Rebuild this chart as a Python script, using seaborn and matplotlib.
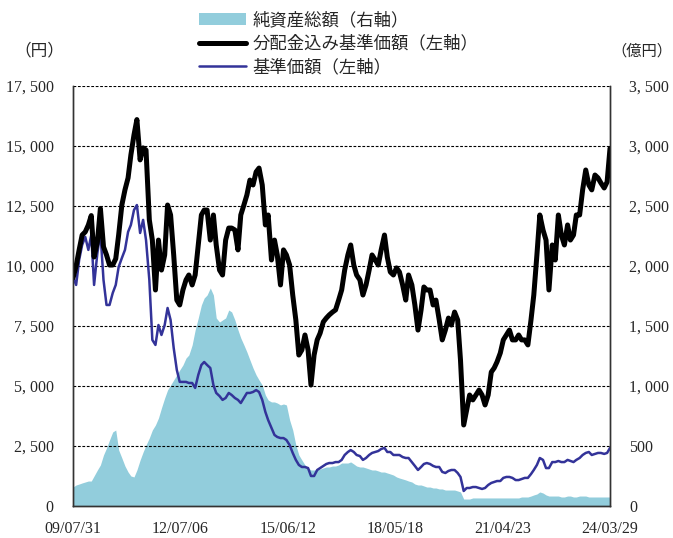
import numpy as np
import pandas as pd
import seaborn as sns
import matplotlib.pyplot as plt
from matplotlib.patches import Patch
from matplotlib.lines import Line2D

# monthly readings (business month end), 2009/07/31 .. 2024/03/29
dates = pd.date_range('2009-07-31', '2024-03-29', freq='BME')

nav_with_div = [9500, 10000, 10670, 11290, 11420, 11710, 12100, 10375, 11000, 12400,
                10800, 10460, 10040, 10040, 10300, 11290, 12540, 13170, 13670, 14625,
                15460, 16100, 14420, 14920, 14830, 11920, 11080, 9000, 11080, 9830,
                10460, 12540, 12125, 10460, 8580, 8375, 9000, 9420, 9625, 9210,
                9625, 10875, 12125, 12330, 12330, 11080, 12125, 10875, 9830, 9625,
                11080, 11580, 11580, 11500, 10670, 12125, 12540, 12960, 13580, 13375,
                13920, 14080, 13375, 11710, 12125, 10250, 11080, 10460, 9210, 10670,
                10460, 10040, 8790, 7750, 6290, 6500, 7125, 6500, 5040, 6290,
                6920, 7200, 7670, 7830, 7960, 8080, 8170, 8580, 9000, 9830,
                10460, 10875, 10040, 9625, 9420, 8790, 9210, 9830, 10460, 10250,
                10040, 10670, 11290, 10375, 9750, 9625, 9920, 9750, 9210, 8580,
                9625, 9210, 8375, 7330, 8170, 9125, 9000, 9000, 8375, 8580,
                7750, 6920, 7330, 7830, 7540, 8080, 7750, 6080, 3375, 4000,
                4625, 4420, 4625, 4830, 4625, 4210, 4625, 5580, 5750, 6000,
                6375, 6920, 7125, 7330, 6920, 6920, 7125, 6920, 6920, 6710,
                7750, 8790, 10460, 12125, 11500, 11080, 9000, 10875, 10250, 12125,
                11290, 10875, 11710, 11080, 11290, 12125, 12125, 13170, 14000, 13375,
                13170, 13790, 13670, 13460, 13250, 13500, 14900]

nav = [9540, 9210, 10250, 10875, 11210, 10670, 11290, 9210, 10540, 11420,
       9420, 8375, 8375, 8875, 9210, 9960, 10330, 10670, 11420, 11710,
       12330, 12540, 11375, 11920, 11080, 9420, 6920, 6710, 7540, 7125,
       7540, 8250, 7750, 6580, 5670, 5170, 5170, 5170, 5125, 5125,
       4920, 5460, 5875, 6000, 5875, 5750, 5040, 4710, 4580, 4420,
       4500, 4710, 4625, 4500, 4420, 4290, 4500, 4710, 4710, 4750,
       4830, 4750, 4420, 3920, 3580, 3250, 2960, 2875, 2830, 2830,
       2750, 2540, 2210, 1920, 1710, 1625, 1625, 1580, 1250, 1250,
       1500, 1580, 1670, 1750, 1790, 1790, 1830, 1830, 1920, 2125,
       2250, 2330, 2250, 2125, 2080, 1920, 2000, 2125, 2210, 2250,
       2290, 2375, 2420, 2250, 2250, 2125, 2125, 2125, 2040, 2000,
       2000, 1830, 1670, 1500, 1625, 1750, 1790, 1750, 1670, 1625,
       1625, 1420, 1375, 1460, 1500, 1500, 1375, 1210, 625, 750,
       750, 790, 790, 750, 710, 750, 875, 960, 1000, 1040,
       1040, 1170, 1210, 1210, 1170, 1080, 1080, 1125, 1170, 1170,
       1330, 1500, 1710, 2000, 1920, 1580, 1580, 1830, 1830, 1875,
       1830, 1830, 1920, 1875, 1830, 1920, 2000, 2125, 2210, 2250,
       2125, 2170, 2210, 2210, 2170, 2210, 2420]

net_assets = [158, 175, 183, 192, 200, 208, 208, 250, 300, 342,
              425, 483, 550, 617, 633, 467, 400, 333, 283, 250,
              242, 300, 383, 450, 508, 567, 633, 675, 733, 817,
              900, 967, 1008, 1050, 1092, 1133, 1175, 1233, 1258, 1342,
              1467, 1567, 1675, 1733, 1758, 1817, 1758, 1567, 1533, 1550,
              1567, 1633, 1617, 1550, 1467, 1400, 1342, 1283, 1217, 1150,
              1092, 1050, 1008, 925, 883, 867, 867, 858, 842, 850,
              842, 717, 633, 508, 425, 383, 342, 317, 300, 300,
              300, 308, 317, 325, 325, 333, 333, 342, 358, 358,
              358, 367, 350, 333, 325, 325, 317, 308, 300, 300,
              292, 283, 283, 275, 267, 258, 242, 233, 225, 217,
              208, 200, 183, 175, 175, 167, 158, 158, 150, 150,
              142, 142, 133, 133, 133, 133, 125, 117, 58, 58,
              58, 67, 67, 67, 67, 67, 67, 67, 67, 67,
              67, 67, 67, 67, 67, 67, 67, 75, 75, 75,
              83, 92, 100, 117, 108, 92, 83, 83, 83, 83,
              75, 75, 83, 83, 75, 75, 83, 83, 83, 75,
              75, 75, 75, 75, 75, 75, 75]

tick_dates = ['2009-07-31', '2012-07-06', '2015-06-12', '2018-05-18', '2021-04-23', '2024-03-29']
left_ticks = [0, 2500, 5000, 7500, 10000, 12500, 15000, 17500]
right_ticks = [0, 500, 1000, 1500, 2000, 2500, 3000, 3500]

df = pd.DataFrame({'date': dates, 'nav_div': nav_with_div, 'nav': nav, 'assets': net_assets})

sns.set_style('white')
plt.rcParams['font.family'] = ['Noto Sans CJK JP', 'DejaVu Sans']

area_color = '#92CDDC'
blue = '#333399'

fig = plt.figure(figsize=(6.73, 5.38), dpi=100)
ax = fig.add_axes([0.1085, 0.0595, 0.7979, 0.7807])
ax2 = ax.twinx()

ax2.fill_between(df['date'], df['assets'], 0, color=area_color, linewidth=0)
ax2.set_ylim(0, 3500)

sns.lineplot(data=df, x='date', y='nav', ax=ax, color=blue, linewidth=1.8)
sns.lineplot(data=df, x='date', y='nav_div', ax=ax, color='black', linewidth=3.6)

ax.set_zorder(ax2.get_zorder() + 1)
ax.patch.set_visible(False)

ax.set_ylim(0, 17500)
ax.set_xlim(pd.Timestamp('2009-07-31'), pd.Timestamp('2024-03-29'))
ax.set_xlabel('')
ax.set_ylabel('')
ax2.set_ylabel('')

def fmt(v):
    return f'{v:,}'.replace(',', ', ')

num_font = dict(family='Liberation Serif', size=11.5)
ax.set_yticks(left_ticks)
ax.set_yticklabels([fmt(v) for v in left_ticks], **num_font)
ax2.set_yticks(right_ticks)
ax2.set_yticklabels([fmt(v) for v in right_ticks], **num_font)
xt = pd.to_datetime(tick_dates)
ax.set_xticks(xt)
ax.set_xticklabels([d.strftime('%y/%m/%d') for d in xt], **num_font)

ax.tick_params(axis='y', length=0, pad=14)
ax2.tick_params(axis='y', length=0, pad=14)
ax.tick_params(axis='x', direction='in', length=5, pad=11, color='#333333')

for g in left_ticks[1:]:
    ax.axhline(g, color='black', linestyle=(0, (2.5, 1.5)), linewidth=0.8, zorder=0.5)

for a in (ax, ax2):
    a.spines['top'].set_visible(False)
    for s in ('left', 'right', 'bottom'):
        a.spines[s].set_color('#333333')
        a.spines[s].set_linewidth(1.0)

fig.text(0.022, 0.905, '（円）', fontsize=12, ha='left', va='center')
fig.text(0.999, 0.905, '（億円）', fontsize=11, ha='right', va='center')

handles = [Patch(facecolor=area_color, edgecolor='none'),
           Line2D([], [], color='black', linewidth=3.6),
           Line2D([], [], color=blue, linewidth=1.8)]
labels = ['純資産総額（右軸）', '分配金込み基準価額（左軸）', '基準価額（左軸）']
fig.legend(handles, labels, loc='upper left', bbox_to_anchor=(0.28, 0.998),
           frameon=False, fontsize=12.5, handlelength=2.7, handletextpad=0.4,
           labelspacing=0.3, borderaxespad=0.2)

fig.savefig('out.png', dpi=100)
